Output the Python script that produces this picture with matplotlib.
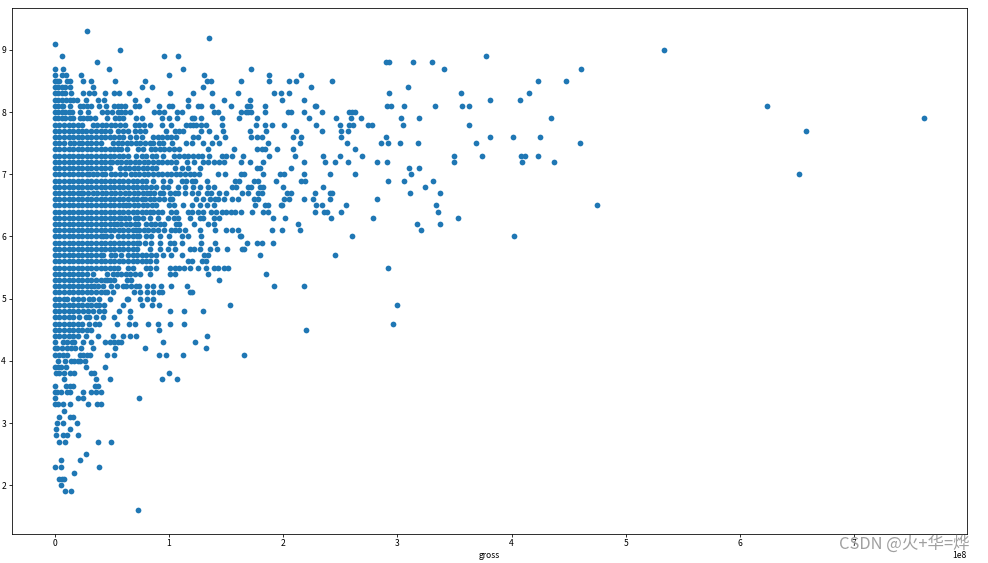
import numpy as np
import matplotlib
matplotlib.use("Agg")
import matplotlib.pyplot as plt

plt.rcParams['font.family'] = ['Noto Sans CJK SC', 'DejaVu Sans']

# gross in millions, one list per imdb score
g93 = [28]
g92 = [135]
g91 = [0.5]
g90 = [57, 534]
g89 = [6, 96, 108, 378]
g88 = [37, 290, 293, 314, 330]
g87 = [0, 7, 47, 112, 172, 341, 461]
g86 = [0, 6, 10, 23, 100, 131, 188, 216]
g85 = [0, 2, 4, 11, 13, 25, 32, 53, 79, 133, 137, 163, 188, 205, 211, 243, 423, 448]
g84 = [0, 3, 6, 9, 13, 33, 76, 85, 130, 224, 309]
g83 = [0, 3, 6, 9, 14, 25, 30, 34, 44, 52, 56, 65, 101, 121, 138, 160, 192, 198, 205, 293, 356, 415]
g82 = [0, 3, 6, 10, 13, 16, 19, 27, 38, 43, 70, 81, 117, 148, 171, 199, 218, 381, 407]
g81 = [0, 3, 6, 7, 13, 22, 25, 28, 32, 39, 45, 52, 55, 58, 61, 70, 74, 91, 100, 103, 117, 125, 128, 138,
       154, 168, 171, 184, 228, 229, 291, 294, 306, 333, 357, 363, 624]
g80 = [0, 3, 6, 9, 12, 15, 22, 29, 41, 46, 50, 55, 58, 61, 66, 87, 91, 96, 107, 111, 139, 143, 163, 167,
       169, 172, 184, 204, 207, 218, 234, 258, 260, 263]
g79 = [0, 3, 6, 9, 13, 16, 22, 25, 28, 31, 35, 46, 53, 56, 60, 71, 76, 94, 100, 107, 120, 122, 128, 146,
       161, 177, 223, 246, 259, 268, 303, 319, 435, 761]
g78 = [0, 4, 8, 12, 16, 20, 24, 33, 37, 41, 45, 49, 53, 57, 61, 70, 74, 78, 83, 94, 102, 115, 118, 121,
       124, 128, 132, 146, 176, 184, 190, 201, 229, 250, 258, 261, 274, 278, 305, 363]
g77 = [0, 4, 8, 12, 16, 20, 24, 27, 32, 36, 40, 44, 48, 55, 60, 64, 70, 75, 79, 97, 105, 109, 112, 128,
       135, 147, 171, 185, 211, 234, 251, 257, 658]
g76 = [0, 4, 8, 12, 16, 20, 24, 28, 32, 36, 40, 44, 48, 52, 56, 60, 66, 71, 76, 86, 90, 94, 98, 102,
       106, 121, 125, 141, 149, 172, 177, 181, 209, 216, 251, 290, 381, 401, 425]
g75 = [0, 4, 8, 13, 17, 21, 24, 28, 32, 36, 40, 51, 55, 59, 63, 67, 71, 75, 79, 83, 86, 91, 95, 103,
       115, 120, 130, 138, 144, 187, 215, 256, 286, 292, 302, 318, 369, 460]
g74 = [0, 4, 8, 12, 16, 20, 24, 28, 32, 36, 40, 44, 48, 52, 55, 58, 63, 73, 77, 84, 88, 92, 96, 100,
       104, 109, 134, 157, 177, 181, 184, 195, 209, 263]
g73 = [0, 4, 8, 12, 16, 20, 24, 28, 32, 36, 40, 44, 48, 52, 56, 60, 64, 71, 76, 80, 85, 89, 95, 104,
       109, 113, 117, 121, 125, 129, 135, 146, 150, 155, 165, 188, 210, 235, 250, 269, 350, 374, 408,
       412, 423]
g72 = [0, 4, 8, 12, 16, 20, 24, 28, 32, 36, 40, 44, 48, 50, 54, 58, 62, 66, 70, 74, 78, 82, 86, 90,
       94, 98, 102, 106, 116, 122, 130, 134, 139, 144, 148, 163, 171, 182, 218, 237, 245, 257, 282,
       291, 350, 409, 437]
g71 = [0, 4, 8, 12, 16, 20, 24, 28, 32, 36, 40, 44, 48, 57, 61, 65, 69, 73, 77, 81, 85, 89, 105, 111,
       117, 127, 177, 180, 207, 310, 319]
g70 = [0, 4, 8, 12, 16, 20, 24, 28, 30, 33, 37, 41, 44, 49, 53, 57, 61, 67, 70, 74, 78, 82, 86, 90,
       94, 98, 102, 106, 110, 114, 118, 122, 126, 143, 149, 163, 166, 182, 197, 201, 218, 241, 263,
       312, 652]
g69 = [0, 4, 8, 12, 16, 20, 24, 28, 32, 36, 40, 44, 48, 52, 56, 60, 64, 68, 72, 76, 80, 86, 95, 101,
       111, 115, 120, 123, 133, 158, 161, 174, 178, 194, 216, 219, 292, 306, 331]
g68 = [0, 4, 8, 12, 16, 20, 24, 28, 32, 36, 40, 44, 48, 52, 56, 60, 64, 68, 72, 76, 80, 84, 89, 95,
       99, 108, 114, 121, 127, 134, 139, 155, 159, 169, 172, 180, 182, 200, 235, 324]
g67 = [0, 4, 8, 12, 16, 20, 23, 25, 29, 33, 37, 41, 45, 49, 53, 57, 61, 65, 69, 73, 77, 81, 83, 87,
       92, 95, 101, 105, 108, 114, 120, 125, 133, 137, 144, 150, 164, 169, 178, 181, 203, 207, 228,
       241, 243, 311, 337]
g66 = [0, 4, 8, 12, 16, 20, 24, 28, 32, 36, 40, 44, 48, 52, 56, 60, 64, 68, 72, 76, 79, 83, 87, 91,
       96, 101, 103, 124, 130, 136, 140, 143, 148, 155, 160, 174, 178, 201, 205, 218, 226, 241, 282]
g65 = [0, 4, 8, 12, 16, 20, 24, 28, 32, 36, 40, 44, 48, 52, 56, 60, 62, 65, 69, 73, 77, 81, 85, 89,
       100, 104, 112, 120, 127, 133, 139, 175, 184, 187, 198, 199, 229, 234, 255, 334, 475]
g64 = [0, 4, 8, 12, 16, 20, 24, 28, 32, 36, 40, 44, 48, 52, 56, 60, 64, 68, 72, 76, 80, 83, 86, 90,
       94, 102, 106, 117, 120, 125, 130, 137, 141, 146, 150, 154, 158, 163, 173, 182, 187, 228, 236,
       238, 251, 336]
g63 = [0, 4, 8, 12, 16, 20, 24, 28, 32, 36, 40, 44, 48, 52, 56, 58, 61, 65, 70, 73, 77, 83, 90, 99,
       104, 108, 118, 127, 130, 139, 144, 191, 202, 242, 279, 353]
g62 = [0, 4, 8, 12, 16, 20, 24, 28, 32, 36, 40, 44, 48, 52, 54, 58, 62, 66, 70, 73, 80, 84, 88, 92,
       96, 106, 109, 122, 134, 139, 213, 317, 337]
g61 = [0, 4, 8, 12, 16, 20, 24, 28, 32, 36, 40, 44, 48, 52, 56, 60, 64, 68, 71, 74, 78, 82, 86, 90,
       96, 102, 105, 109, 114, 127, 140, 150, 155, 160, 190, 199, 215, 321]
g60 = [0, 4, 8, 12, 16, 20, 24, 28, 32, 36, 40, 42, 45, 49, 55, 60, 64, 68, 72, 74, 80, 84, 92, 100,
       111, 117, 128, 162, 163, 260, 402]
g59 = [0, 4, 8, 12, 16, 20, 24, 28, 32, 36, 40, 44, 48, 52, 56, 60, 64, 68, 72, 74, 79, 84, 92, 101,
       104, 111, 128, 140, 168, 177, 181, 191]
g58 = [0, 4, 8, 12, 16, 20, 24, 28, 32, 36, 40, 44, 48, 52, 56, 60, 64, 68, 72, 83, 92, 99, 105, 118,
       122, 127, 136, 142, 151, 164, 166]
g57 = [0, 4, 8, 12, 16, 20, 24, 28, 32, 36, 40, 42, 49, 53, 58, 64, 68, 72, 76, 80, 84, 89, 95, 102,
       111, 131, 134, 180, 245]
g56 = [0, 4, 8, 12, 16, 20, 24, 28, 32, 36, 40, 44, 48, 52, 56, 60, 64, 68, 72, 76, 80, 83, 89, 117,
       120, 129, 132]
g55 = [0, 4, 8, 12, 16, 20, 24, 28, 32, 36, 40, 44, 48, 52, 55, 64, 68, 80, 83, 89, 101, 105, 109, 113,
       118, 125, 132, 139, 143, 148, 152, 292]
g54 = [0, 4, 8, 12, 16, 20, 24, 28, 33, 46, 51, 54, 58, 62, 66, 70, 75, 83, 101, 105, 134, 185]
g53 = [0, 4, 8, 12, 16, 20, 24, 28, 32, 36, 40, 44, 46, 48, 52, 63, 67, 144]
g52 = [0, 4, 8, 12, 16, 20, 24, 28, 32, 34, 38, 42, 49, 54, 60, 62, 67, 71, 74, 81, 86, 93, 102, 116,
       192, 218]
g51 = [0, 4, 8, 12, 16, 20, 24, 28, 32, 36, 40, 44, 46, 51, 69, 75, 81, 86, 91, 94, 118, 120]
g50 = [0, 4, 8, 11, 16, 20, 25, 30, 33, 39, 48, 63, 64, 75, 81, 86]
g49 = [0, 4, 8, 12, 16, 20, 24, 28, 32, 36, 39, 43, 60, 76, 85, 91, 153, 300]
g48 = [0, 4, 8, 12, 16, 20, 25, 29, 33, 39, 43, 56, 66, 101, 113, 130]
g47 = [0, 4, 8, 12, 16, 21, 27, 30, 36, 42, 52, 66]
g46 = [0, 4, 8, 12, 16, 20, 24, 30, 35, 39, 54, 65, 70, 82, 90, 101, 113, 296]
g45 = [0, 4, 8, 12, 16, 20, 24, 28, 32, 91, 220]
g44 = [0, 4, 8, 12, 16, 20, 27, 38, 51, 60, 66, 71, 133]
g43 = [0, 7, 11, 15, 17, 25, 32, 44, 48, 52, 55, 58, 95, 123]
g42 = [0, 2, 6, 11, 14, 18, 23, 33, 53, 79, 132]
g41 = [0, 4, 7, 11, 22, 25, 28, 31, 46, 52, 91, 97, 112, 166]
g40 = [3, 9, 14, 17, 20, 22, 26]
g39 = [0, 3, 5, 10, 27, 44]
g38 = [1, 4, 8, 13, 17, 32, 34, 100]
g37 = [8, 36, 48, 94, 107]
g36 = [0, 10, 13, 16, 35, 38]
g35 = [0, 2, 5, 11, 13, 25, 32, 36, 40]
g34 = [0, 20, 25, 74]
g33 = [0, 3, 7, 13, 29, 37, 40]
g32 = [8]
g31 = [4, 13, 16]
g30 = [2, 7, 19]
g29 = [1, 13]
g28 = [1, 7, 11, 20]
g27 = [4, 9, 38, 49]
g25 = [27]
g24 = [5, 22]
g23 = [0, 5, 39]
g22 = [17]
g21 = [4, 6, 8]
g20 = [5]
g19 = [9, 14]
g16 = [73]

rows = [
    (9.3, g93), (9.2, g92), (9.1, g91), (9.0, g90), (8.9, g89), (8.8, g88), (8.7, g87), (8.6, g86),
    (8.5, g85), (8.4, g84), (8.3, g83), (8.2, g82), (8.1, g81), (8.0, g80), (7.9, g79), (7.8, g78),
    (7.7, g77), (7.6, g76), (7.5, g75), (7.4, g74), (7.3, g73), (7.2, g72), (7.1, g71), (7.0, g70),
    (6.9, g69), (6.8, g68), (6.7, g67), (6.6, g66), (6.5, g65), (6.4, g64), (6.3, g63), (6.2, g62),
    (6.1, g61), (6.0, g60), (5.9, g59), (5.8, g58), (5.7, g57), (5.6, g56), (5.5, g55), (5.4, g54),
    (5.3, g53), (5.2, g52), (5.1, g51), (5.0, g50), (4.9, g49), (4.8, g48), (4.7, g47), (4.6, g46),
    (4.5, g45), (4.4, g44), (4.3, g43), (4.2, g42), (4.1, g41), (4.0, g40), (3.9, g39), (3.8, g38),
    (3.7, g37), (3.6, g36), (3.5, g35), (3.4, g34), (3.3, g33), (3.2, g32), (3.1, g31), (3.0, g30),
    (2.9, g29), (2.8, g28), (2.7, g27), (2.5, g25), (2.4, g24), (2.3, g23), (2.2, g22), (2.1, g21),
    (2.0, g20), (1.9, g19), (1.6, g16),
]

gross = np.concatenate([np.array(g, dtype=float) * 1e6 for _, g in rows])
score = np.concatenate([np.full(len(g), r) for r, g in rows])

fig = plt.figure(figsize=(988 / 72, 563 / 72), dpi=72)
ax = fig.add_axes([11.5 / 988, 1 - 534 / 563, (967 - 11.5) / 988, (534 - 8) / 563])

ax.scatter(gross, score, s=33, color='#1f77b4', linewidths=0)

ax.set_xlim(-0.38e8, 7.99e8)
ax.set_ylim(1.215, 9.675)
ax.set_xticks(np.arange(0, 8) * 1e8)
ax.set_yticks(np.arange(2, 10))
ax.tick_params(labelsize=8.5, length=3, width=0.8, pad=2.5)
ax.xaxis.get_offset_text().set_fontsize(8.5)
ax.set_xlabel('gross', fontsize=8.5, labelpad=2)

# watermark from the screenshot
fig.text(839 / 988, 1 - 553 / 563, 'CSDN @火+华=烨', fontsize=16.5, color='#a0a0a0', va='bottom', ha='left')

plt.savefig('out.png', dpi=72)
